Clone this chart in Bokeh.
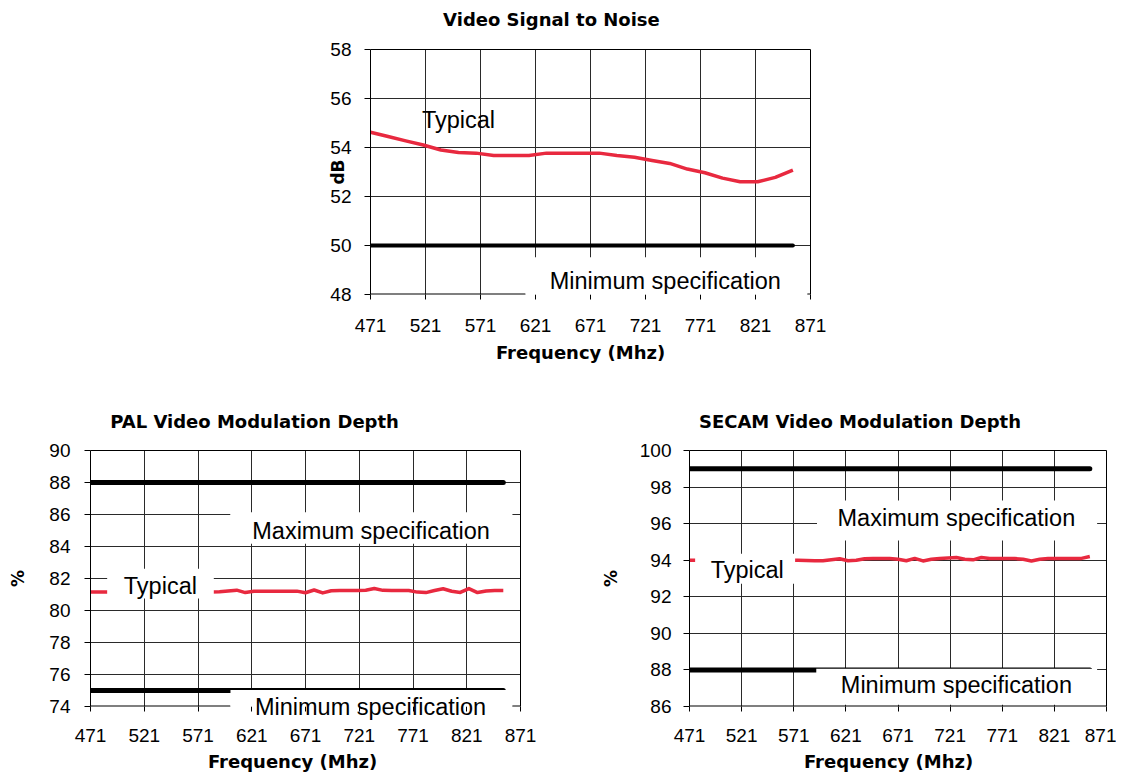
from bokeh.plotting import figure
from bokeh.models import FixedTicker, BoxAnnotation, Label, Spacer, LinearAxis
from bokeh.layouts import column, row
from bokeh.embed import file_html
from bokeh.resources import INLINE

# ---------------- data ----------------
freq_ticks = [471, 521, 571, 621, 671, 721, 771, 821, 871]

# Video signal to noise (dB)
snr_freq = [471, 487, 503, 519, 535, 551, 567, 583, 599, 615, 631, 647, 663,
            679, 695, 711, 727, 743, 759, 775, 791, 807, 823, 839, 855]
snr_typical = [54.62, 54.45, 54.27, 54.10, 53.90, 53.80, 53.77, 53.67, 53.67,
               53.67, 53.77, 53.77, 53.77, 53.77, 53.67, 53.60, 53.47, 53.35,
               53.12, 52.97, 52.75, 52.60, 52.60, 52.78, 53.08]
snr_min_freq = [471, 855]
snr_min_spec = [50, 50]
snr_yticks = [48, 50, 52, 54, 56, 58]

# Channel frequencies for modulation depth
ch_freq = [471, 479, 487, 495, 503, 511, 519, 527, 535, 543, 551, 559, 567,
           575, 583, 591, 599, 607, 615, 623, 631, 639, 647, 655, 663, 671,
           679, 687, 695, 703, 711, 719, 727, 735, 743, 751, 759, 767, 775,
           783, 791, 799, 807, 815, 823, 831, 839, 847, 855]

# PAL video modulation depth (%)
pal_typical = [81.15, 81.15, 81.15, 81.15, 81.15, 81.15, 81.15, 81.15, 81.15,
               81.15, 81.15, 81.15, 81.15, 81.15, 81.15, 81.17, 81.22, 81.27,
               81.12, 81.20, 81.21, 81.21, 81.21, 81.21, 81.21, 81.11, 81.28,
               81.10, 81.23, 81.25, 81.25, 81.25, 81.27, 81.37, 81.26, 81.25,
               81.25, 81.25, 81.15, 81.12, 81.25, 81.36, 81.20, 81.13, 81.37,
               81.12, 81.22, 81.25, 81.25]
pal_spec_freq = [471, 855]
pal_max_spec = [88, 88]
pal_min_spec = [75, 75]
pal_yticks = [74, 76, 78, 80, 82, 84, 86, 88, 90]

# SECAM video modulation depth (%)
secam_typical = [94.00, 94.00, 94.00, 94.00, 94.00, 94.00, 94.00, 94.00, 94.00,
                 94.00, 94.00, 94.00, 94.00, 94.00, 93.98, 93.97, 93.97, 94.02,
                 94.08, 93.97, 94.00, 94.08, 94.09, 94.09, 94.09, 94.05, 93.97,
                 94.10, 93.96, 94.05, 94.10, 94.12, 94.15, 94.05, 94.02, 94.15,
                 94.10, 94.09, 94.09, 94.09, 94.05, 93.96, 94.05, 94.09, 94.09,
                 94.09, 94.09, 94.10, 94.20]
secam_spec_freq = [471, 855]
secam_max_spec = [99, 99]
secam_min_spec = [88, 88]
secam_yticks = [86, 88, 90, 92, 94, 96, 98, 100]

# ---------------- styles ----------------
RED = "#E8293F"
GRID = "#2a2a2a"
TICK_FONT = "Liberation Sans"
BOLD_FONT = "DejaVu Sans"
NOTE_SIZE = "23.5px"
HEAD_SIZE = "18px"


def make_fig(ylo, yhi, yticks, fw, fh, bl, br, bt, bb, ylab_standoff,
             ylabel, ylabel_standoff, xtick_standoff, bottom_gaps):
    p = figure(x_range=(471, 871), y_range=(ylo, yhi), frame_width=fw, frame_height=fh,
               min_border_left=bl, min_border_right=br, min_border_top=bt,
               min_border_bottom=bb, output_backend="svg", toolbar_location=None,
               background_fill_color="white", border_fill_color="white")
    p.outline_line_color = None
    p.title.text = ""
    xa = p.xaxis[0]
    ya = p.yaxis[0]
    xa.ticker = FixedTicker(ticks=freq_ticks)
    ya.ticker = FixedTicker(ticks=yticks)
    p.xgrid.ticker = FixedTicker(ticks=freq_ticks)
    p.ygrid.ticker = FixedTicker(ticks=yticks)
    for g in (p.xgrid, p.ygrid):
        g.grid_line_color = GRID
        g.grid_line_width = 1
    for ax in (xa, ya):
        ax.axis_line_color = "black"
        ax.axis_line_width = 1
        ax.major_tick_line_color = "black"
        ax.major_tick_in = 0
        ax.minor_tick_line_color = None
        ax.major_label_text_font = TICK_FONT
        ax.major_label_text_font_size = "19px"
        ax.major_label_text_color = "black"
        ax.axis_label_text_font = BOLD_FONT
        ax.axis_label_text_font_style = "bold"
        ax.axis_label_text_color = "black"
        ax.axis_label_text_font_size = "17px"
    xa.major_tick_out = 5
    ya.major_tick_out = 6
    xa.major_label_standoff = xtick_standoff
    ya.major_label_standoff = ylab_standoff
    ya.axis_label = ylabel
    ya.axis_label_standoff = ylabel_standoff
    # the bottom line of the plot area is left open under the white note boxes
    xa.axis_line_color = None
    p.segment(x0=[g[0] for g in bottom_gaps], x1=[g[1] for g in bottom_gaps],
              y0=ylo, y1=ylo, line_color="black", line_width=2)
    # top and right border lines of the plot area
    for side in ("right", "above"):
        ax = LinearAxis(ticker=FixedTicker(ticks=[]), axis_line_color="black",
                        axis_line_width=1, major_tick_out=0, major_tick_in=0,
                        minor_tick_out=0, minor_tick_in=0,
                        major_label_text_font_size="0px")
        p.add_layout(ax, side)
    return p


def note(p, text, x, y, panel=None):
    lab = Label(x=x, y=y, text=text, text_font=TICK_FONT, text_font_size=NOTE_SIZE,
                text_color="black", text_align="center", text_baseline="middle",
                level="overlay")
    if panel is None:
        p.add_layout(lab)
    else:
        p.add_layout(lab, panel)


def heading(p, text, x, y, panel):
    p.add_layout(Label(x=x, y=y, text=text, text_font=BOLD_FONT, text_font_size=HEAD_SIZE,
                       text_font_style="bold", text_color="black",
                       text_align="center", text_baseline="middle"), panel)


def white_box(p, left, right, bottom, top):
    p.add_layout(BoxAnnotation(left=left, right=right, bottom=bottom, top=top,
                               fill_color="white", fill_alpha=1.0, line_color=None))


# ---------------- top: Video Signal to Noise ----------------
snr_box = (612, 868)
p1 = make_fig(48, 58, snr_yticks, 440, 245, 80, 30, 49, 76, 13, "dB", -21, 19,
              [(471, snr_box[0]), (snr_box[1], 871)])
p1.line(snr_min_freq, snr_min_spec, line_color="black", line_width=4, line_cap="round")
p1.line(snr_freq, snr_typical, line_color=RED, line_width=3.5, line_join="round")
white_box(p1, snr_box[0], snr_box[1], 47.9, 49.52)
note(p1, "Typical", 551, 55.14)
note(p1, "Minimum specification", 739, 48.57)
heading(p1, "Video Signal to Noise", 635.5, 59.22, "above")
heading(p1, "Frequency (Mhz)", 662, 45.63, "below")

# ---------------- PAL ----------------
pal_box = (601.2, 863.3)
p2 = make_fig(74, 90, pal_yticks, 430, 256, 90, 20, 80, 70, 14, "%", 18, 17,
              [(471, pal_box[0]), (pal_box[1], 871)])
p2.line(pal_spec_freq, pal_max_spec, line_color="black", line_width=5, line_cap="round")
p2.line(pal_spec_freq, pal_min_spec, line_color="black", line_width=5, line_cap="round")
p2.line(ch_freq, pal_typical, line_color=RED, line_width=3.5, line_join="round")
white_box(p2, 601, 863.5, 84.17, 86.14)
white_box(p2, 486.5, 585.7, 80.75, 82.61)
white_box(p2, pal_box[0], pal_box[1], 73.9, 75.03)
note(p2, "Maximum specification", 732, 84.98)
note(p2, "Typical", 536, 81.56)
note(p2, "Minimum specification", 731.5, 73.95, "above")
heading(p2, "PAL Video Modulation Depth", 623.6, 91.81, "above")
heading(p2, "Frequency (Mhz)", 659, 70.56, "above")

# ---------------- SECAM ----------------
p3 = make_fig(86, 100, secam_yticks, 417, 256, 149, 10, 80, 70, 12, "%", 16, 17,
              [(471, 871)])
p3.line(secam_spec_freq, secam_max_spec, line_color="black", line_width=5, line_cap="round")
p3.line(secam_spec_freq, secam_min_spec, line_color="black", line_width=5, line_cap="round")
p3.line(ch_freq, secam_typical, line_color=RED, line_width=3.5, line_join="round")
white_box(p3, 593.3, 862, 95.08, 97.27)
white_box(p3, 476.4, 572.3, 92.71, 94.35)
white_box(p3, 592.6, 862, 86.1, 88.07)
note(p3, "Maximum specification", 727, 96.31)
note(p3, "Typical", 526.4, 93.44)
note(p3, "Minimum specification", 727, 87.2)
heading(p3, "SECAM Video Modulation Depth", 634.5, 101.59, "above")
heading(p3, "Frequency (Mhz)", 662, 82.99, "above")

layout = column(row(Spacer(width=290, height=10), p1), row(p2, p3))
open("out.html", "w").write(file_html(layout, INLINE))
